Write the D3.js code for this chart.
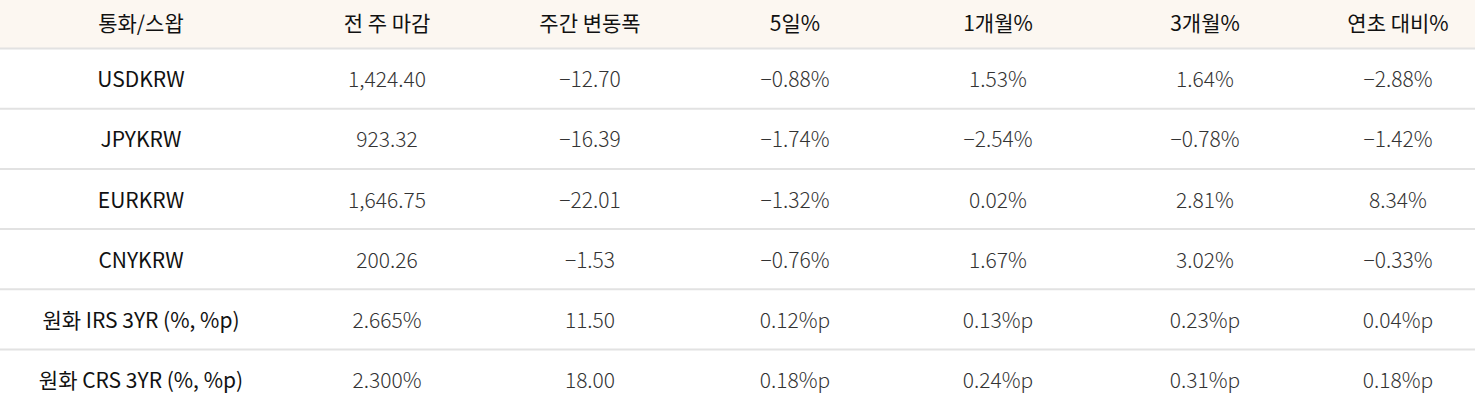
<!DOCTYPE html>
<html><head><meta charset="utf-8">
<script src="https://cdn.jsdelivr.net/npm/d3@7"></script>
<style>body{margin:0;background:#fff}</style>
</head><body>
<svg width="1475" height="409"></svg>
<script>
const headers = ["통화/스왑", "전 주 마감", "주간 변동폭", "5일%", "1개월%", "3개월%", "연초 대비%"];
const labels = ["USDKRW", "JPYKRW", "EURKRW", "CNYKRW", "원화 IRS 3YR (%, %p)", "원화 CRS 3YR (%, %p)"];
const lastClose = ["1,424.40", "923.32", "1,646.75", "200.26", "2.665%", "2.300%"];
const weekChange = ["−12.70", "−16.39", "−22.01", "−1.53", "11.50", "18.00"];
const d5 = ["−0.88%", "−1.74%", "−1.32%", "−0.76%", "0.12%p", "0.18%p"];
const m1 = ["1.53%", "−2.54%", "0.02%", "1.67%", "0.13%p", "0.24%p"];
const m3 = ["1.64%", "−0.78%", "2.81%", "3.02%", "0.23%p", "0.31%p"];
const ytd = ["−2.88%", "−1.42%", "8.34%", "−0.33%", "0.04%p", "0.18%p"];

const rows = labels.map((l, i) => [l, lastClose[i], weekChange[i], d5[i], m1[i], m3[i], ytd[i]]);
const centers = [141, 387, 590, 795, 998, 1205, 1398];

let svg = d3.select("svg");
const headH = 48, rowH = 60.2;
const font = "'Noto Sans CJK KR', 'Noto Sans', sans-serif";

svg.append("rect").attr("width", 1475).attr("height", headH).attr("fill", "#fcf7f1");

svg.selectAll(".hd").data(headers).join("text")
    .attr("x", (d, i) => centers[i]).attr("y", headH / 2 - 2)
    .attr("text-anchor", "middle").attr("dominant-baseline", "central")
    .attr("font-family", font).attr("font-size", "21px").attr("font-weight", 400)
    .attr("fill", "#111").text(d => d);

let yRow = i => headH + i * rowH;

svg.selectAll(".ln").data(d3.range(rows.length)).join("line")
    .attr("x1", 0).attr("x2", 1475)
    .attr("y1", d => yRow(d) + 0.5).attr("y2", d => yRow(d) + 0.5)
    .attr("stroke", "#e2e2e2").attr("stroke-width", 2);

let g = svg.selectAll(".row").data(rows).join("g")
    .attr("transform", (d, i) => "translate(0," + (yRow(i) + rowH / 2) + ")");

g.selectAll("text").data(d => d).join("text")
    .attr("x", (d, i) => centers[i]).attr("y", 0)
    .attr("text-anchor", "middle").attr("dominant-baseline", "central")
    .attr("font-family", font).attr("font-size", "21px")
    .attr("font-weight", (d, i) => i === 0 ? 400 : 300)
    .attr("fill", (d, i) => i === 0 ? "#111" : "#333").text(d => d);
</script>
</body></html>
